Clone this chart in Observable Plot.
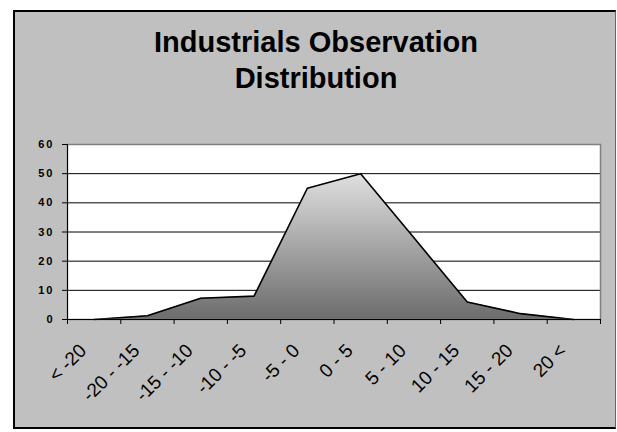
<!DOCTYPE html>
<html>
<head>
<meta charset="utf-8">
<script src="https://cdn.jsdelivr.net/npm/d3@7"></script>
<script src="https://cdn.jsdelivr.net/npm/@observablehq/plot@0.6"></script>
<style>
  html, body { margin: 0; padding: 0; background: #ffffff; }
  #wrap { position: relative; width: 617px; height: 432px; overflow: hidden; }
  #box { position: absolute; left: 13px; top: 10px; width: 603px; height: 419px; box-sizing: border-box;
         background: #c0c0c0; border-left: 2px solid #000; border-top: 2px solid #000; border-bottom: 2px solid #000; border-right: 1px solid #666; }
  #title { position: absolute; left: 0; top: 24px; width: 632px; text-align: center;
           font-family: "Liberation Sans", Arial, sans-serif; font-weight: bold; font-size: 29px; line-height: 36px; color: #000; }
  #chart { position: absolute; left: 0; top: 0; }
  #chart g[aria-label="y-axis tick label"] text { letter-spacing: 2px; }
</style>
</head>
<body>
<div id="wrap">
  <div id="box"></div>
  <div id="title">Industrials Observation<br>Distribution</div>
  <div id="chart"></div>
</div>
<script>
const categories = ["< -20", "-20 - -15", "-15 - -10", "-10 - -5", "-5 - 0", "0 - 5", "5 - 10", "10 - 15", "15 - 20", "20 <"];
const counts = [0, 1.3, 7.3, 8, 45, 50, 28, 6, 2, 0];
const yTicks = [0, 10, 20, 30, 40, 50, 60];
const xBoundaries = [0, 1, 2, 3, 4, 5, 6, 7, 8, 9, 10];

const pos = (d, i) => i + 0.5;

const chart = Plot.plot({
  width: 617,
  height: 432,
  marginLeft: 67,
  marginRight: 17,
  marginTop: 144,
  marginBottom: 113,
  x: { domain: [0, 10], axis: null },
  y: { domain: [0, 60], axis: null },
  style: { background: "transparent", fontFamily: "'Liberation Sans', Arial, sans-serif", color: "#000", overflow: "visible" },
  marks: [
    Plot.frame({ fill: "#ffffff", stroke: null }),
    Plot.ruleY(yTicks.slice(1, -1), { stroke: "#000", strokeWidth: 1 }),
    Plot.areaY(counts, { x: pos, y: d => d, fill: "url(#areaGrad)" }),
    Plot.lineY(counts, { x: pos, y: d => d, stroke: "#000", strokeWidth: 1.6 }),
    Plot.frame({ stroke: "#808080", strokeWidth: 1.5 }),
    Plot.ruleX([0], { stroke: "#000" }),
    Plot.ruleY([0], { stroke: "#000" }),
    Plot.axisY({ ticks: yTicks, tickSize: 5, tickPadding: 8, fontSize: 11, fontWeight: "bold", label: null }),
    Plot.axisX({ ticks: xBoundaries, tickSize: 5, tickFormat: () => "", label: null }),
    Plot.text(categories, { x: pos, y: () => 0, text: d => d, rotate: -45, textAnchor: "end", lineAnchor: "middle", dx: -11, dy: 28, fontSize: 19, fill: "#000" })
  ]
});

const svg = d3.select(chart);
const defs = svg.insert("defs", ":first-child");
const grad = defs.append("linearGradient").attr("id", "areaGrad").attr("x1", 0).attr("y1", 0).attr("x2", 0).attr("y2", 1);
grad.append("stop").attr("offset", "0%").attr("stop-color", "#e0e0e0");
grad.append("stop").attr("offset", "100%").attr("stop-color", "#6c6c6c");

document.getElementById("chart").appendChild(chart);
</script>
</body>
</html>
